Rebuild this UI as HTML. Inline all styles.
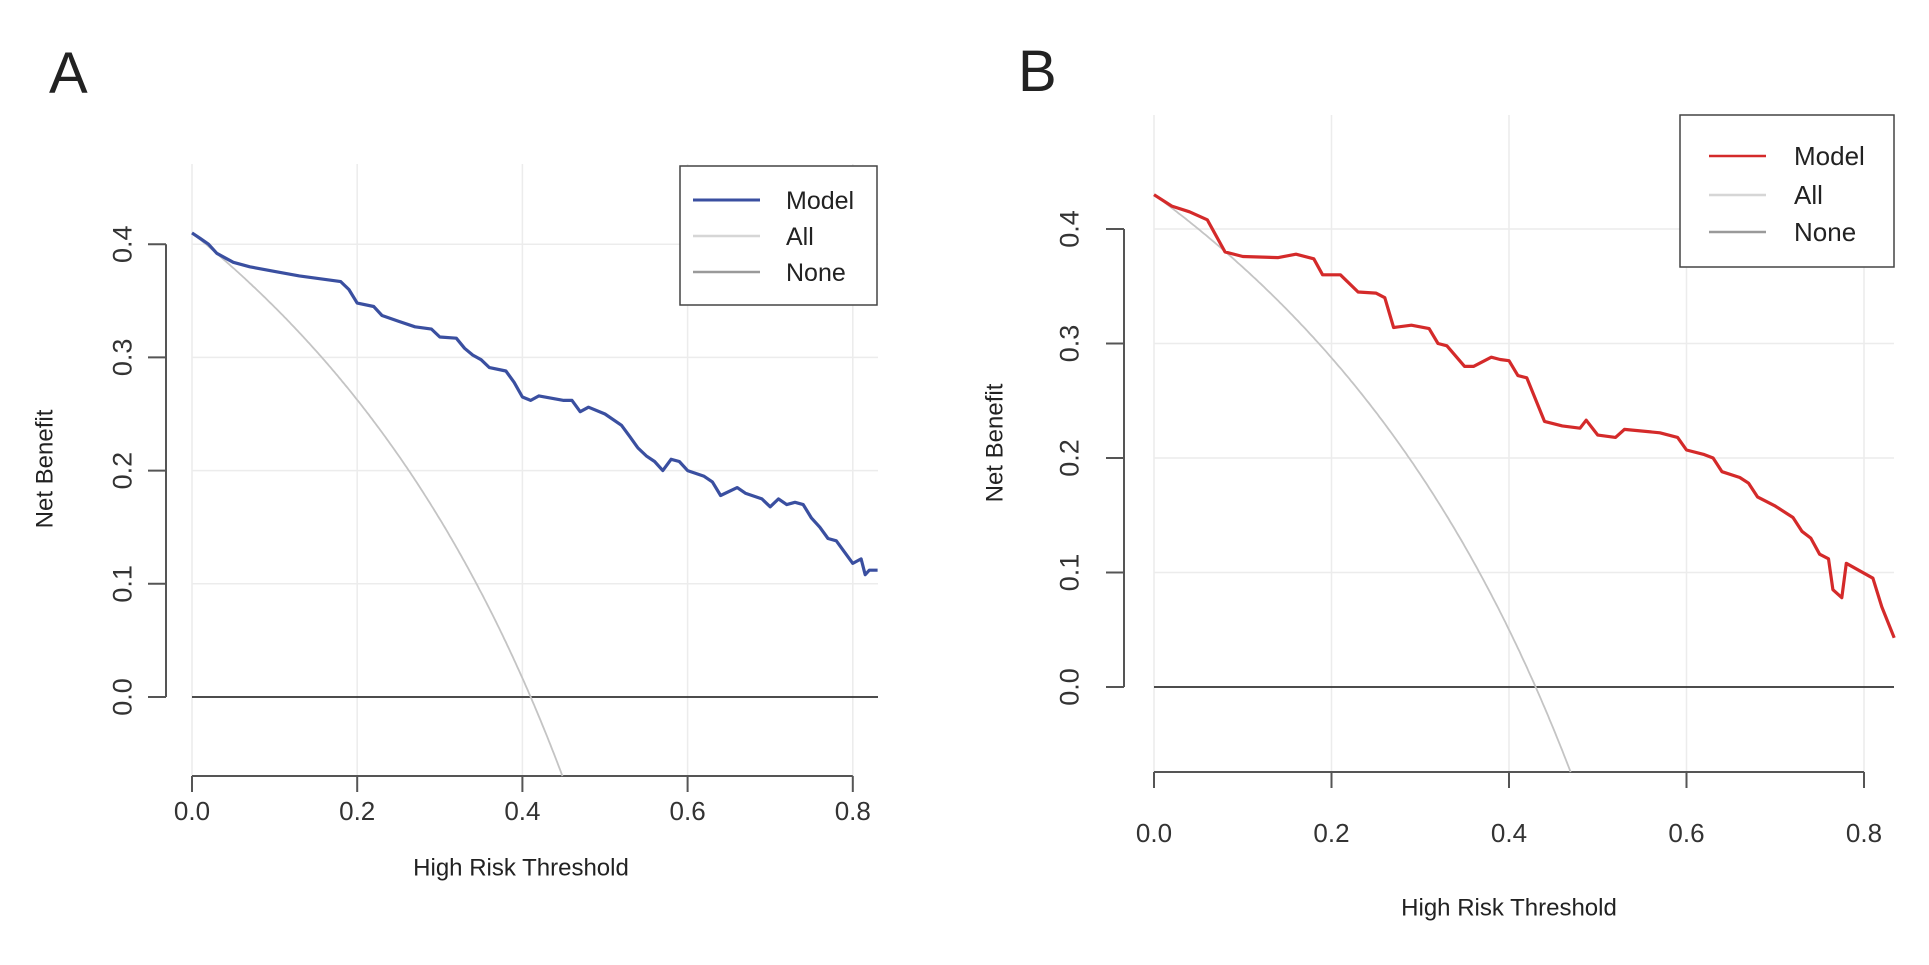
<!DOCTYPE html>
<html><head><meta charset="utf-8"><style>
html,body{margin:0;padding:0;background:#fff;}
svg{display:block;font-family:"Liberation Sans",Arial,sans-serif;}
</style></head><body>
<svg id="s" width="1929" height="965" viewBox="0 0 1929 965" xmlns="http://www.w3.org/2000/svg">
<rect width="1929" height="965" fill="#fff"/>
<text x="49" y="93" font-size="58" fill="#222">A</text>
<text x="1018" y="91" font-size="58" fill="#222">B</text>
<g id="g"></g>
<rect x="680" y="166" width="197" height="139" fill="#fff" stroke="#444" stroke-width="1.5"/>
<line x1="693" y1="200" x2="760" y2="200" stroke="#3a4fa0" stroke-width="3"/>
<line x1="693" y1="236" x2="760" y2="236" stroke="#d6d6d6" stroke-width="2.5"/>
<line x1="693" y1="272" x2="760" y2="272" stroke="#9a9a9a" stroke-width="2.5"/>
<text x="786" y="209" font-size="25" fill="#222">Model</text>
<text x="786" y="245" font-size="25" fill="#222">All</text>
<text x="786" y="281" font-size="25" fill="#222">None</text>
<rect x="1680" y="115" width="214" height="152" fill="#fff" stroke="#444" stroke-width="1.5"/>
<line x1="1709" y1="156" x2="1766" y2="156" stroke="#d42a2a" stroke-width="2.5"/>
<line x1="1709" y1="195" x2="1766" y2="195" stroke="#d6d6d6" stroke-width="2.5"/>
<line x1="1709" y1="232" x2="1766" y2="232" stroke="#9a9a9a" stroke-width="2.5"/>
<text x="1794" y="165" font-size="26" fill="#222">Model</text>
<text x="1794" y="204" font-size="26" fill="#222">All</text>
<text x="1794" y="241" font-size="26" fill="#222">None</text>
</svg>
<script>
const NS="http://www.w3.org/2000/svg";
const g=document.getElementById("g");
function el(t,a,txt){const e=document.createElementNS(NS,t);for(const k in a)e.setAttribute(k,a[k]);if(txt!==undefined)e.textContent=txt;g.appendChild(e);return e;}
function panel(P){
 const X=t=>P.x0+t*P.sx, Y=v=>P.y0-v*P.sy;
 for(let t=0;t<=0.8001;t+=0.2) el("line",{x1:X(t),y1:P.top,x2:X(t),y2:P.axY,stroke:"#ececec","stroke-width":1.5});
 for(let v=0.1;v<=0.4001;v+=0.1) el("line",{x1:P.x0,y1:Y(v),x2:P.right,y2:Y(v),stroke:"#ececec","stroke-width":1.5});
 el("line",{x1:P.yax,y1:Y(0),x2:P.yax,y2:Y(0.4),stroke:"#555","stroke-width":2});
 for(let i=0;i<=4;i++){const v=i/10;el("line",{x1:P.yax-18,y1:Y(v),x2:P.yax,y2:Y(v),stroke:"#555","stroke-width":2});
  el("text",{x:P.ylab,y:Y(v),"font-size":27,fill:"#333","text-anchor":"middle",transform:`rotate(-90 ${P.ylab} ${Y(v)})`,dy:"0.35em"},v.toFixed(1));}
 el("text",{x:P.ytit,y:P.ytitY,"font-size":24,fill:"#222","text-anchor":"middle",transform:`rotate(-90 ${P.ytit} ${P.ytitY})`,dy:"0.35em"},"Net Benefit");
 el("line",{x1:X(0),y1:P.axY,x2:X(0.8),y2:P.axY,stroke:"#555","stroke-width":2});
 for(let i=0;i<=4;i++){const t=i*0.2;el("line",{x1:X(t),y1:P.axY,x2:X(t),y2:P.axY+16,stroke:"#555","stroke-width":2});
  el("text",{x:X(t),y:P.xlab,"font-size":26,fill:"#333","text-anchor":"middle",dy:"0.35em"},t.toFixed(1));}
 el("text",{x:P.xtitX,y:P.xtitY,"font-size":24,fill:"#222","text-anchor":"middle",dy:"0.35em"},"High Risk Threshold");
 el("line",{x1:X(0),y1:Y(0),x2:P.right,y2:Y(0),stroke:"#333","stroke-width":1.8});
 let d="";const vmin=(P.y0-P.axY)/P.sy;
 for(let t=0;t<0.9;t+=0.002){let v=P.p-(1-P.p)*t/(1-t);
  if(v<vmin){const r=(P.p-vmin)/(1-P.p);const te=r/(1+r);d+="L"+X(te).toFixed(1)+","+P.axY;break;}
  d+=(d?"L":"M")+X(t).toFixed(1)+","+Y(v).toFixed(1);}
 el("path",{d:d,fill:"none",stroke:"#c4c4c4","stroke-width":1.8});
 d=P.m.map((q,i)=>(i?"L":"M")+X(q[0]).toFixed(1)+","+Y(q[1]).toFixed(1)).join("");
 el("path",{d:d,fill:"none",stroke:P.col,"stroke-width":3.2,"stroke-linejoin":"round"});
}
panel({x0:192,sx:826,y0:697,sy:1132,top:164,right:878,axY:776,yax:166,ylab:122,ytit:44,ytitY:469,xlab:811,xtitX:521,xtitY:867,p:0.41,col:"#3a4fa0",
m:[[0,0.41],[0.01,0.405],[0.02,0.4],[0.03,0.392],[0.04,0.388],[0.05,0.384],[0.07,0.38],[0.1,0.376],[0.13,0.372],[0.15,0.37],[0.18,0.367],[0.19,0.36],[0.2,0.348],[0.22,0.345],[0.23,0.337],[0.25,0.332],[0.27,0.327],[0.29,0.325],[0.3,0.318],[0.32,0.317],[0.33,0.308],[0.34,0.302],[0.35,0.298],[0.36,0.291],[0.38,0.288],[0.39,0.278],[0.4,0.265],[0.41,0.262],[0.42,0.266],[0.45,0.262],[0.46,0.262],[0.47,0.252],[0.48,0.256],[0.5,0.25],[0.52,0.24],[0.53,0.23],[0.54,0.22],[0.55,0.213],[0.56,0.208],[0.57,0.2],[0.58,0.21],[0.59,0.208],[0.6,0.2],[0.62,0.195],[0.63,0.19],[0.64,0.178],[0.66,0.185],[0.67,0.18],[0.69,0.175],[0.7,0.168],[0.71,0.175],[0.72,0.17],[0.73,0.172],[0.74,0.17],[0.75,0.158],[0.76,0.15],[0.77,0.14],[0.78,0.138],[0.79,0.128],[0.8,0.118],[0.81,0.122],[0.815,0.108],[0.82,0.112],[0.83,0.112]]});
panel({x0:1154,sx:887.5,y0:687,sy:1145,top:115,right:1894,axY:772,yax:1124,ylab:1069,ytit:994,ytitY:443,xlab:833,xtitX:1509,xtitY:907,p:0.43,col:"#d42a2a",
m:[[0,0.43],[0.02,0.42],[0.04,0.415],[0.06,0.408],[0.08,0.38],[0.1,0.376],[0.14,0.375],[0.16,0.378],[0.18,0.374],[0.19,0.36],[0.21,0.36],[0.23,0.345],[0.25,0.344],[0.26,0.34],[0.27,0.314],[0.29,0.316],[0.31,0.313],[0.32,0.3],[0.33,0.298],[0.35,0.28],[0.36,0.28],[0.38,0.288],[0.39,0.286],[0.4,0.285],[0.41,0.272],[0.42,0.27],[0.44,0.232],[0.46,0.228],[0.48,0.226],[0.487,0.233],[0.5,0.22],[0.52,0.218],[0.53,0.225],[0.57,0.222],[0.59,0.218],[0.6,0.207],[0.62,0.203],[0.63,0.2],[0.64,0.188],[0.66,0.183],[0.67,0.178],[0.68,0.166],[0.7,0.158],[0.72,0.148],[0.73,0.136],[0.74,0.13],[0.75,0.116],[0.76,0.112],[0.765,0.085],[0.775,0.078],[0.78,0.108],[0.81,0.095],[0.82,0.07],[0.834,0.043]]});
</script>
</body></html>
